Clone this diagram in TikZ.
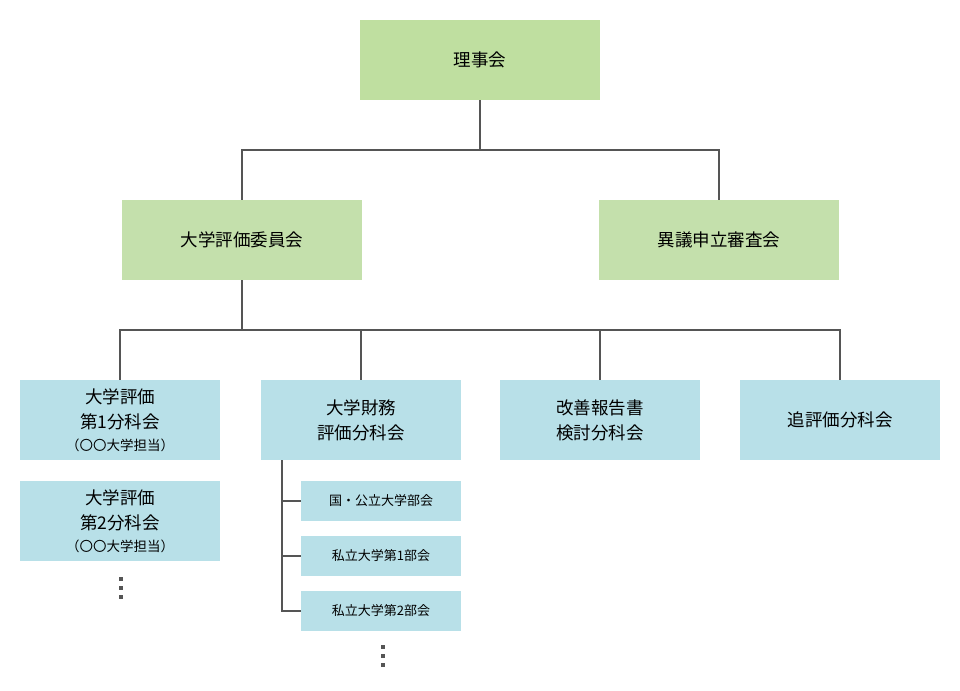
\documentclass[tikz,border=0pt]{standalone}
\usepackage{fontspec}
\setmainfont{Noto Sans CJK JP}
\definecolor{gtop}{HTML}{BFDFA0}
\definecolor{gmid}{HTML}{C4E0AC}
\definecolor{bbox}{HTML}{B8E0E8}
\definecolor{lcol}{HTML}{555555}
\begin{document}
\begin{tikzpicture}[x=1pt,y=-1pt,
  gbox/.style={rectangle, inner sep=0pt, minimum width=240pt, minimum height=80pt, align=center, font=\fontsize{17.5}{20}\selectfont},
  bluebox/.style={rectangle, fill=bbox, inner sep=0pt, minimum width=200pt, minimum height=80pt, align=center, font=\fontsize{17.5}{25}\selectfont},
  subbox/.style={rectangle, fill=bbox, inner sep=0pt, minimum width=160pt, minimum height=40pt, align=center, font=\fontsize{13}{15}\selectfont},
  conn/.style={draw=lcol, line width=2pt},
  dotsq/.style={fill=lcol}]
\useasboundingbox (0,0) rectangle (960,690);
\node[gbox, fill=gtop] (top) at (480,60) {理事会};
\node[gbox, fill=gmid] (hyoka) at (242,240) {大学評価委員会};
\node[gbox, fill=gmid] (igi) at (719,240) {異議申立審査会};
\node[bluebox] (c1) at (120,420) {大学評価\\第1分科会\\[-3pt]{\fontsize{13.5}{14}\selectfont（〇〇大学担当）}};
\node[bluebox] (c1b) at (120,521) {大学評価\\第2分科会\\[-3pt]{\fontsize{13.5}{14}\selectfont（〇〇大学担当）}};
\node[bluebox] (c2) at (361,420) {大学財務\\評価分科会};
\node[bluebox] (c3) at (600,420) {改善報告書\\検討分科会};
\node[bluebox] (c4) at (840,420) {追評価分科会};
\node[subbox] (s1) at (381,501) {国・公立大学部会};
\node[subbox] (s2) at (381,556) {私立大学第1部会};
\node[subbox] (s3) at (381,611) {私立大学第2部会};
\coordinate (j1) at (480,150);
\coordinate (j2) at (242,330);
\coordinate (sx) at (282,460);
\draw[conn] (top.south) -- (j1) -| (hyoka.north);
\draw[conn] (j1) -| (igi.north);
\draw[conn] (hyoka.south) -- (j2) -| (c1.north);
\draw[conn] (j2) -| (c2.north);
\draw[conn] (j2) -| (c3.north);
\draw[conn] (j2) -| (c4.north);
\draw[conn] (sx) |- (s3.west);
\draw[conn] (s1.west -| sx) -- (s1.west);
\draw[conn] (s2.west -| sx) -- (s2.west);
\foreach \yy in {577,586,595} {\fill[dotsq] (119,\yy) rectangle ++(4,4);}
\foreach \yy in {645,654,663} {\fill[dotsq] (381,\yy) rectangle ++(4,4);}
\end{tikzpicture}
\end{document}
